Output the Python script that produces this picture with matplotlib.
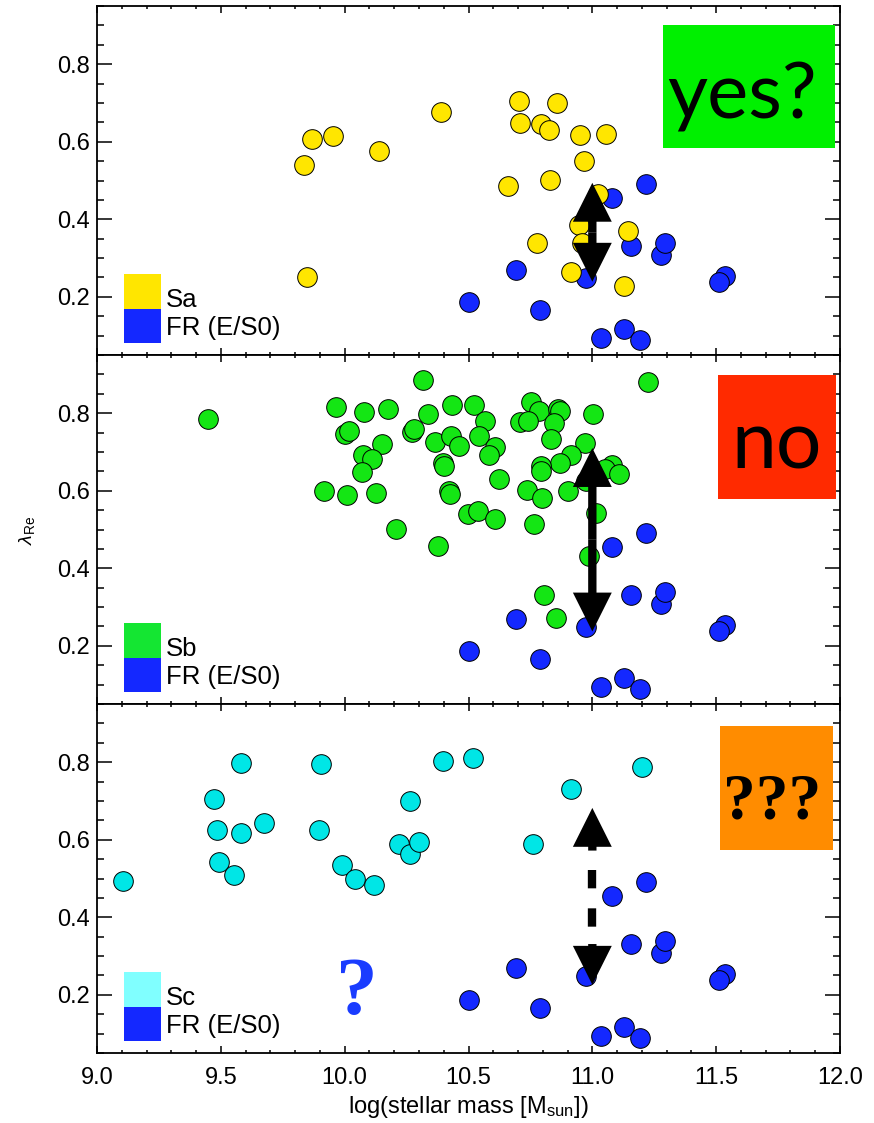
import matplotlib
matplotlib.use("Agg")
import matplotlib.pyplot as plt
from matplotlib.patches import Rectangle
from matplotlib.patches import ArrowStyle
from matplotlib.ticker import MultipleLocator, FormatStrFormatter

plt.rcParams['font.family'] = ['Liberation Sans', 'DejaVu Sans']
plt.rcParams['mathtext.fontset'] = 'custom'
plt.rcParams['mathtext.rm'] = 'Liberation Sans'
plt.rcParams['mathtext.it'] = 'Liberation Sans:italic'

# ---------------- data ----------------
fr_x = [11.218, 11.078, 11.155, 11.276, 11.293, 11.536, 11.510, 10.693, 10.974,
        10.502, 10.788, 11.033, 11.127, 11.191]
fr_y = [0.490, 0.455, 0.332, 0.309, 0.338, 0.254, 0.237, 0.268, 0.248,
        0.186, 0.167, 0.093, 0.117, 0.088]

sa_x = [9.835, 9.870, 9.953, 10.139, 9.849, 10.389, 10.703, 10.859, 10.709, 10.792,
        10.826, 10.950, 11.056, 10.968, 10.660, 10.828, 11.023, 10.948, 11.143,
        10.960, 10.776, 10.912, 11.127]
sa_y = [0.541, 0.606, 0.615, 0.576, 0.252, 0.676, 0.704, 0.700, 0.648, 0.645,
        0.630, 0.618, 0.620, 0.549, 0.487, 0.502, 0.465, 0.385, 0.370,
        0.338, 0.340, 0.264, 0.228]

sb_x = [9.450, 9.965, 10.080, 10.174, 10.316, 10.001, 10.016, 10.151, 10.076, 10.111,
        10.068, 9.918, 10.008, 10.125, 10.208, 10.376, 10.336, 10.433, 10.524, 10.565,
        10.271, 10.281, 10.363, 10.431, 10.461, 10.543, 10.605, 10.581, 10.397, 10.403,
        10.423, 10.425, 10.624, 10.498, 10.537, 10.609, 10.751, 10.784, 10.863, 10.871,
        10.707, 10.741, 10.847, 10.835, 11.001, 10.972, 10.914, 10.869, 10.792, 10.792,
        10.737, 10.796, 10.903, 10.764, 10.974, 11.078, 11.053, 11.106, 11.015, 10.987,
        11.226, 10.804, 10.853]
sb_y = [0.784, 0.816, 0.803, 0.812, 0.885, 0.745, 0.755, 0.721, 0.692, 0.682,
        0.648, 0.600, 0.590, 0.593, 0.501, 0.458, 0.798, 0.821, 0.820, 0.781,
        0.751, 0.758, 0.725, 0.742, 0.716, 0.740, 0.714, 0.693, 0.672, 0.665,
        0.598, 0.592, 0.631, 0.541, 0.548, 0.526, 0.829, 0.805, 0.812, 0.805,
        0.776, 0.779, 0.775, 0.734, 0.797, 0.722, 0.692, 0.672, 0.663, 0.650,
        0.602, 0.581, 0.599, 0.515, 0.624, 0.667, 0.655, 0.642, 0.543, 0.431,
        0.881, 0.332, 0.271]

sc_x = [9.103, 9.472, 9.580, 9.486, 9.580, 9.675, 9.493, 9.555, 9.906, 9.898,
        9.989, 10.040, 10.117, 10.263, 10.219, 10.265, 10.302, 10.399, 10.517,
        10.914, 10.760, 11.200]
sc_y = [0.493, 0.705, 0.798, 0.624, 0.618, 0.642, 0.543, 0.510, 0.794, 0.626,
        0.534, 0.499, 0.484, 0.700, 0.589, 0.564, 0.593, 0.803, 0.810,
        0.731, 0.589, 0.788]

types = ['Sa', 'Sb', 'Sc']
verdicts = ['yes?', 'no', '???']
arrow_x = [11.0, 11.0, 11.0]
arrow_top = [0.494, 0.710, 0.682]
arrow_bot = [0.239, 0.237, 0.226]
dash_top, dash_bot = 0.523, 0.376
blue_q_xy = (10.05, 0.151)

x_ticks = [9.0, 9.5, 10.0, 10.5, 11.0, 11.5, 12.0]
y_ticks = [0.2, 0.4, 0.6, 0.8]

# ---------------- style ----------------
c_fr = '#1428ff'
marker_col = {'Sa': '#ffe600', 'Sb': '#14e614', 'Sc': '#00e6e6'}
legend_col = {'Sa': '#ffe600', 'Sb': '#14e632', 'Sc': '#80ffff'}
box_col = {'yes?': '#00f000', 'no': '#ff2a00', '???': '#ff8c00'}
box_ext = {'yes?': (0.762, 0.593, 0.993, 0.946),
           'no': (0.836, 0.587, 0.995, 0.943),
           '???': (0.838, 0.582, 0.991, 0.937)}

W, H = 874, 1123
fig = plt.figure(figsize=(W / 100, H / 100), dpi=100)
left = 97 / W
width = 743 / W
ph = 349 / H
bottoms = [1 - 355 / H, 1 - 704 / H, 1 - 1053 / H]

data = {'Sa': (sa_x, sa_y), 'Sb': (sb_x, sb_y), 'Sc': (sc_x, sc_y)}
MS = 200

axes = []
for i, t in enumerate(types):
    ax = fig.add_axes([left, bottoms[i], width, ph])
    axes.append(ax)
    ax.set_xlim(9.0, 12.0)
    ax.set_ylim(0.05, 0.95)

    ax.scatter(fr_x, fr_y, s=MS, c=c_fr, edgecolors='k', linewidths=0.7, zorder=3)
    xs, ys = data[t]
    ax.scatter(xs, ys, s=MS, c=marker_col[t], edgecolors='k', linewidths=0.7, zorder=4)

    # ticks
    ax.xaxis.set_major_locator(MultipleLocator(0.5))
    ax.xaxis.set_minor_locator(MultipleLocator(0.1))
    ax.set_yticks(y_ticks)
    ax.yaxis.set_minor_locator(MultipleLocator(0.05))
    ax.yaxis.set_major_formatter(FormatStrFormatter('%.1f'))
    ax.xaxis.set_major_formatter(FormatStrFormatter('%.1f'))
    ax.tick_params(axis='both', which='both', direction='in', top=True, right=True,
                   width=1.1, labelsize=17, color='k')
    ax.tick_params(axis='y', which='major', length=10.5, pad=5)
    ax.tick_params(axis='y', which='minor', length=5)
    ax.tick_params(axis='x', which='major', length=5, pad=10)
    ax.tick_params(axis='x', which='minor', length=2.5)
    for sp in ax.spines.values():
        sp.set_linewidth(1.3)
    if i < 2:
        ax.tick_params(axis='x', labelbottom=False)

    # legend
    tr = ax.transAxes
    ax.add_patch(Rectangle((0.0363, 0.133), 0.0498, 0.100, transform=tr,
                           facecolor=legend_col[t], edgecolor='none', zorder=5))
    ax.add_patch(Rectangle((0.0363, 0.033), 0.0498, 0.100, transform=tr,
                           facecolor=c_fr, edgecolor='none', zorder=5))
    ax.text(0.093, 0.137, t, transform=tr, fontsize=18.5, va='baseline', ha='left', zorder=6)
    ax.text(0.093, 0.057, 'FR (E/S0)', transform=tr, fontsize=18.5, va='baseline',
            ha='left', zorder=6)

    # verdict box
    v = verdicts[i]
    x0, y0, x1, y1 = box_ext[v]
    ax.add_patch(Rectangle((x0, y0), x1 - x0, y1 - y0, transform=tr,
                           facecolor=box_col[v], edgecolor='none', zorder=5))
    if v == 'yes?':
        ax.text(0.868, 0.679, v, transform=tr, fontsize=56, family='Lato',
                ha='center', va='baseline', zorder=6)
    elif v == 'no':
        ax.text(0.9145, 0.676, v, transform=tr, fontsize=58, family='Lato',
                ha='center', va='baseline', zorder=6)
    else:
        ax.text(0.9085, 0.673, v, transform=tr, fontsize=47,
                family='Liberation Serif', weight='bold',
                ha='center', va='baseline', zorder=6)

    # arrows
    ax_x = arrow_x[i]
    top, bot = arrow_top[i], arrow_bot[i]
    style = ArrowStyle.Simple(head_length=1.4, head_width=1.4, tail_width=0.3)
    if i < 2:
        mid = 0.5 * (top + bot)
        for tip in (top, bot):
            ax.annotate('', xy=(ax_x, tip), xytext=(ax_x, mid),
                        arrowprops=dict(arrowstyle=style, mutation_scale=20,
                                        fc='k', ec='none', shrinkA=0, shrinkB=0),
                        zorder=7)
    else:
        ax.annotate('', xy=(ax_x, top), xytext=(ax_x, top - 0.11),
                    arrowprops=dict(arrowstyle=style, mutation_scale=20,
                                    fc='k', ec='none', shrinkA=0, shrinkB=0),
                    zorder=7)
        ax.annotate('', xy=(ax_x, bot), xytext=(ax_x, bot + 0.105),
                    arrowprops=dict(arrowstyle=style, mutation_scale=20,
                                    fc='k', ec='none', shrinkA=0, shrinkB=0),
                    zorder=7)
        ax.plot([ax_x, ax_x], [dash_top, dash_bot], color='k', lw=6,
                linestyle=(0, (2.2, 2.4)), solid_capstyle='butt',
                dash_capstyle='butt', zorder=7)
        ax.text(blue_q_xy[0], blue_q_xy[1], '?', fontsize=60,
                family='Liberation Serif', weight='bold', color='#1a3cff',
                ha='center', va='baseline', zorder=6)

axes[2].set_xlabel(r'log(stellar mass [M$_{\rm sun}$])', fontsize=17, labelpad=4)
fig.text(27 / W, 1 - 530 / H, r'$\lambda_{\rm Re}$', rotation=90, fontsize=14,
         ha='center', va='center')

fig.savefig('out.png', dpi=100)
